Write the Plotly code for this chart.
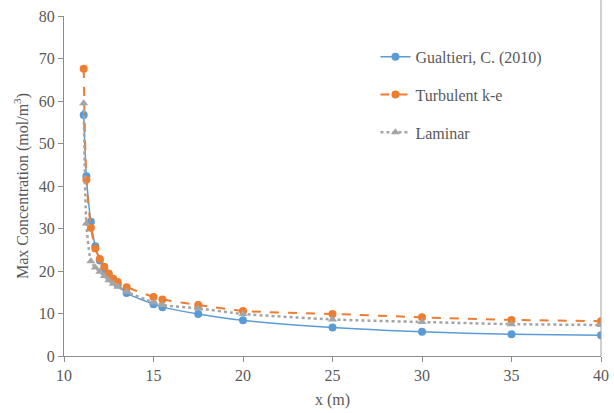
import plotly.graph_objects as go

x_vals = [11.1, 11.25, 11.5, 11.75, 12.0, 12.25, 12.5, 12.75, 13.0, 13.5, 15, 15.5, 17.5, 20, 25, 30, 35, 40]
gualtieri = [56.7, 42.3, 31.6, 25.8, 22.5, 20.5, 19.0, 17.8, 16.8, 14.8, 12.2, 11.5, 9.9, 8.4, 6.7, 5.7, 5.1, 4.9]
turbulent = [67.6, 41.5, 30.2, 25.3, 22.8, 21.0, 19.4, 18.2, 17.4, 16.2, 13.9, 13.3, 12.0, 10.6, 9.9, 9.1, 8.5, 8.2]
laminar = [59.5, 31.2, 22.3, 20.8, 19.8, 18.8, 17.8, 17.0, 16.3, 15.1, 12.6, 12.0, 11.2, 9.9, 8.6, 8.0, 7.5, 7.3]

x_ticks = [10, 15, 20, 25, 30, 35, 40]
y_ticks = [0, 10, 20, 30, 40, 50, 60, 70, 80]

FONT = "'Liberation Serif', 'Times New Roman', serif"
TXT = "#595959"
AX = "#8c8c8c"
FS = 16

fig = go.Figure()
fig.add_trace(go.Scatter(x=x_vals, y=gualtieri, name="Gualtieri, C. (2010)", mode="lines+markers",
                         line=dict(color="#5B9BD5", width=1.5, shape="spline", smoothing=0.6),
                         marker=dict(symbol="circle", size=8, color="#5B9BD5"), legendgroup="a"))
fig.add_trace(go.Scatter(x=x_vals, y=turbulent, name="Turbulent k-e", mode="lines+markers",
                         line=dict(color="#ED7D31", width=2, dash="dash", shape="spline", smoothing=0.6),
                         marker=dict(symbol="circle", size=8, color="#ED7D31"), legendgroup="b"))
fig.add_trace(go.Scatter(x=x_vals, y=laminar, name="Laminar", mode="lines+markers",
                         line=dict(color="#A5A5A5", width=2.5, dash="dot", shape="spline", smoothing=0.6),
                         marker=dict(symbol="triangle-up", size=8, color="#A5A5A5"), legendgroup="c"))

fig.update_layout(
    width=614, height=413,
    margin=dict(l=64, r=13, t=16, b=57, autoexpand=False),
    paper_bgcolor="white", plot_bgcolor="white",
    font=dict(family=FONT, size=FS, color=TXT),
    showlegend=True,
    legend=dict(x=0.58, y=0.93, xanchor="left", yanchor="top", tracegroupgap=14,
                font=dict(family=FONT, size=FS, color=TXT), bgcolor="rgba(0,0,0,0)"),
    xaxis=dict(range=[10, 40], tickvals=x_ticks, showgrid=False, zeroline=False, automargin=False,
               showline=True, linecolor=AX, linewidth=1, ticks="outside", ticklen=5, tickcolor=AX,
               title=dict(text="x (m)", font=dict(family=FONT, size=FS, color=TXT), standoff=10),
               tickfont=dict(family=FONT, size=FS, color=TXT)),
    yaxis=dict(range=[0, 80], tickvals=y_ticks, showgrid=False, zeroline=False, automargin=False,
               showline=True, linecolor=AX, linewidth=1, ticks="outside", ticklen=5, tickcolor=AX,
               title=dict(text="Max Concentration (mol/m<sup>3</sup>)", font=dict(family=FONT, size=FS, color=TXT), standoff=6),
               tickfont=dict(family=FONT, size=FS, color=TXT)),
)
fig.add_shape(type="line", xref="paper", yref="paper", x0=1, x1=1, y0=0, y1=1.047,
              line=dict(color="#a0a0a0", width=1))

fig.write_html("out.html")
